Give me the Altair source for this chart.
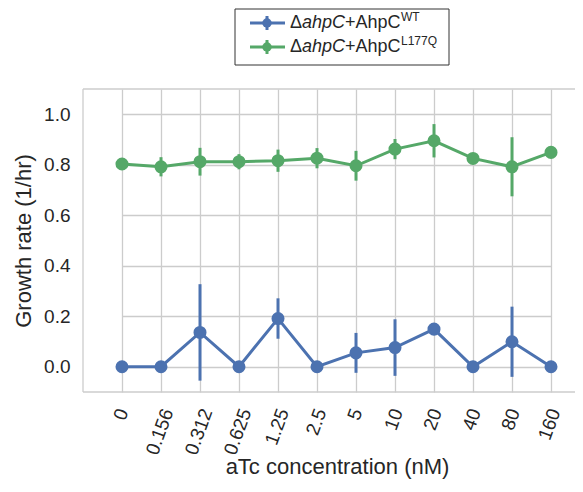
import altair as alt
import pandas as pd

# ---- data ----
conc = ["0", "0.156", "0.312", "0.625", "1.25", "2.5", "5", "10", "20", "40", "80", "160"]
wt_rate = [0.0, 0.0, 0.136, 0.0, 0.191, 0.0, 0.055, 0.076, 0.149, 0.0, 0.099, 0.0]
wt_err = [0.0, 0.0, 0.191, 0.0, 0.080, 0.0, 0.079, 0.112, 0.020, 0.0, 0.139, 0.0]
mut_rate = [0.803, 0.792, 0.812, 0.812, 0.816, 0.826, 0.796, 0.862, 0.895, 0.825, 0.792, 0.849]
mut_err = [0.010, 0.038, 0.055, 0.030, 0.044, 0.040, 0.059, 0.040, 0.066, 0.010, 0.117, 0.010]
series = ["WT", "L177Q"]
colors = ["#4c72b0", "#55a868"]

rows = []
for s, vals, errs in [("WT", wt_rate, wt_err), ("L177Q", mut_rate, mut_err)]:
    for c, v, e in zip(conc, vals, errs):
        rows.append({"conc": c, "series": s, "rate": v, "lo": v - e, "hi": v + e})
df = pd.DataFrame(rows)

FONT = "Liberation Sans"
TXT = "#262626"
GRID = "#cccccc"
W, H = 492, 303

x_enc = alt.X("conc:N", sort=conc,
              scale=alt.Scale(type="point", range=[39, 468], padding=0),
              axis=alt.Axis(title="aTc concentration (nM)", labelAngle=290,
                            labelAlign="right", labelBaseline="middle",
                            labelPadding=17, ticks=False, domain=False,
                            labelOffset={"expr": "length(datum.label) * 1.5 - 1"},
                            grid=True, gridColor=GRID, gridWidth=1.3,
                            titleX=254, titleY=64, titleFontSize=22))
y_enc = alt.Y("rate:Q", scale=alt.Scale(domain=[-0.1, 1.1], nice=False, zero=False),
              axis=alt.Axis(title="Growth rate (1/hr)", values=[0, 0.2, 0.4, 0.6, 0.8, 1.0],
                            format=".1f", ticks=False, domain=False, labelPadding=13,
                            grid=True, gridColor=GRID, gridWidth=1.3, titlePadding=8,
                            titleFontSize=22))
color_enc = alt.Color("series:N", scale=alt.Scale(domain=series, range=colors), legend=None)

one = pd.DataFrame({"k": [0]})
# light frame on top, left and bottom (right side runs off the figure)
frame = [
    alt.Chart(one).mark_rule(color=GRID, strokeWidth=1.3).encode(
        x=alt.value(0), x2=alt.value(W), y=alt.value(0)),
    alt.Chart(one).mark_rule(color=GRID, strokeWidth=1.3).encode(
        x=alt.value(0), x2=alt.value(W), y=alt.value(H)),
    alt.Chart(one).mark_rule(color=GRID, strokeWidth=1.3).encode(
        x=alt.value(0), y=alt.value(0), y2=alt.value(H)),
]

base = alt.Chart(df)
lines = base.mark_line(strokeWidth=3).encode(x=x_enc, y=y_enc, color=color_enc, detail="series:N")
bars = base.mark_rule(strokeWidth=3).encode(x=x_enc, y="lo:Q", y2="hi:Q", color=color_enc)
pts = base.mark_circle(size=170, opacity=1).encode(x=x_enc, y=y_enc, color=color_enc)

leg = [
    alt.Chart(one).mark_rect(fill="white", stroke="#333333", strokeWidth=1).encode(
        x=alt.value(152), x2=alt.value(366), y=alt.value(-80), y2=alt.value(-24)),
]
row_y = [-66, -42]
sups = ["WT", "L177Q"]
for i, (ry, col, sup) in enumerate(zip(row_y, colors, sups)):
    leg.append(alt.Chart(one).mark_rule(strokeWidth=3, color=col).encode(
        x=alt.value(167), x2=alt.value(202), y=alt.value(ry)))
    leg.append(alt.Chart(one).mark_rule(strokeWidth=3, color=col).encode(
        x=alt.value(184), y=alt.value(ry - 7), y2=alt.value(ry + 7)))
    leg.append(alt.Chart(one).mark_circle(size=90, opacity=1, color=col).encode(
        x=alt.value(184), y=alt.value(ry)))
    for xx, txt, style, fs, dy in [(207, "Δ", "normal", 18, 0), (219, "ahpC", "italic", 18, 0),
                                   (262, "+AhpC", "normal", 18, 0), (318, sup, "normal", 12, -6)]:
        leg.append(alt.Chart(one).mark_text(align="left", baseline="middle", font=FONT,
                                            fontSize=fs, fontStyle=style, color=TXT, dy=dy).encode(
            x=alt.value(xx), y=alt.value(ry), text=alt.value(txt)))

chart = alt.layer(*frame, lines, bars, pts, *leg).properties(
    width=W, height=H,
    padding={"left": 75, "top": 81, "right": 0, "bottom": 90},
    autosize=alt.AutoSizeParams(type="none"),
).configure_view(stroke=None).configure_axis(
    labelFont=FONT, titleFont=FONT, labelFontSize=19,
    labelColor=TXT, titleColor=TXT, titleFontWeight="normal"
)

chart.save("out.html", embed_options={"renderer": "svg", "actions": False})
